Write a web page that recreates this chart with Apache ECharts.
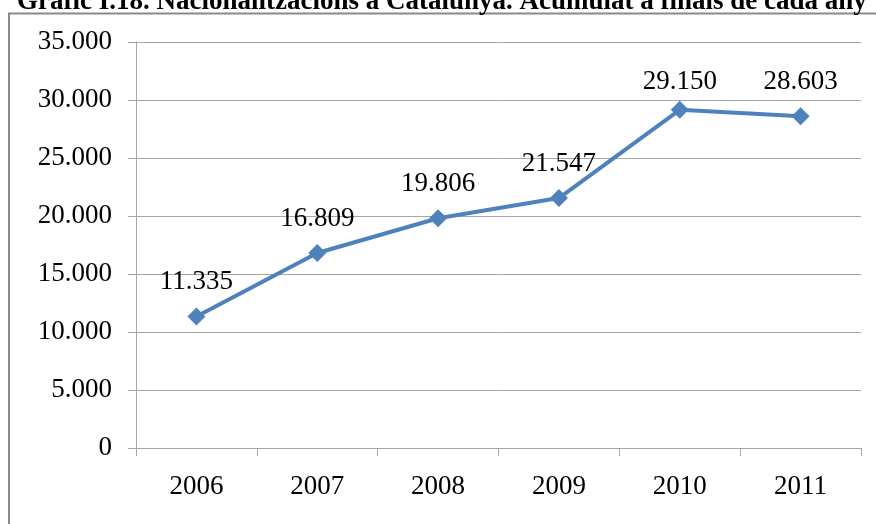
<!DOCTYPE html>
<html>
<head>
<meta charset="utf-8">
<script src="https://cdn.jsdelivr.net/npm/echarts@6/dist/echarts.min.js"></script>
<style>
  html, body { margin: 0; padding: 0; background: #fff; }
  #chart { width: 876px; height: 524px; }
</style>
</head>
<body>
<div id="chart"></div>
<script>
// dades del gràfic
var titol = "Gràfic I.18. Nacionalitzacions a Catalunya. Acumulat a finals de cada any";
var anys = ["2006", "2007", "2008", "2009", "2010", "2011"];
var nacionalitzacions = [11335, 16809, 19806, 21547, 29150, 28603];

var serif = "'Liberation Serif', 'DejaVu Serif', serif";
var gris = "#a6a6a6";

// format amb punt de milers
function fmt(v) {
  return String(v).replace(/\B(?=(\d{3})+(?!\d))/g, ".");
}

var myChart = echarts.init(document.getElementById("chart"));

var option = {
  animation: false,
  title: {
    text: titol,
    left: 12,
    top: -16,
    textStyle: {
      fontFamily: serif,
      fontWeight: "bold",
      fontSize: 27,
      color: "#000",
    },
  },
  graphic: [
    {
      type: "rect",
      shape: { x: 9, y: 13.5, width: 1000, height: 600 },
      style: { fill: "none", stroke: "#8a8a8a", lineWidth: 2 },
      silent: true,
    },
  ],
  grid: {
    left: 136,
    right: 15,
    top: 42,
    bottom: 76,
  },
  xAxis: {
    type: "category",
    data: anys,
    boundaryGap: true,
    axisLine: { lineStyle: { color: gris, width: 1 } },
    axisTick: { show: true, length: 8, alignWithLabel: false, lineStyle: { color: gris } },
    axisLabel: {
      color: "#000",
      fontFamily: serif,
      fontSize: 27,
      margin: 25,
    },
  },
  yAxis: {
    type: "value",
    min: 0,
    max: 35000,
    interval: 5000,
    axisLine: { show: true, lineStyle: { color: gris, width: 1 } },
    axisTick: { show: true, length: 8, lineStyle: { color: gris } },
    axisLabel: {
      color: "#000",
      fontFamily: serif,
      fontSize: 27,
      margin: 24,
      formatter: function (v) {
        return fmt(v);
      },
    },
    splitLine: { lineStyle: { color: gris, width: 1 } },
  },
  series: [
    {
      type: "line",
      data: nacionalitzacions.map(function (v, i) {
        // l'etiqueta del 2010 queda més a prop del punt
        return i === 4 ? { value: v, label: { distance: 5 } } : v;
      }),
      symbol: "diamond",
      symbolSize: 18,
      lineStyle: { color: "#4f81bd", width: 4 },
      itemStyle: { color: "#4f81bd" },
      label: {
        show: true,
        position: "top",
        distance: 12,
        color: "#000",
        fontFamily: serif,
        fontSize: 27,
        formatter: function (p) {
          return fmt(p.value);
        },
      },
    },
  ],
};

myChart.setOption(option);
</script>
</body>
</html>
